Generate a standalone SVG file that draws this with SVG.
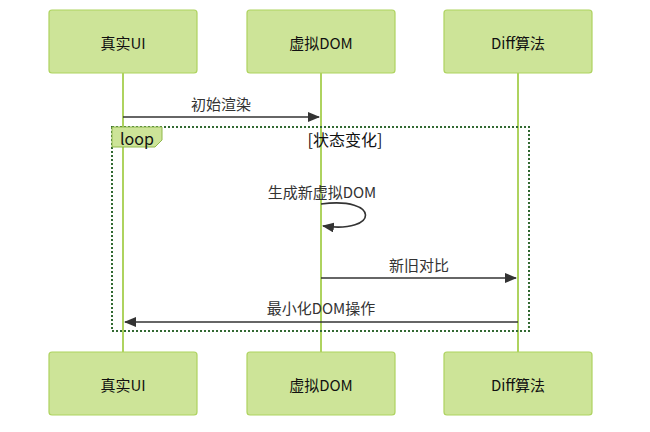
<svg xmlns="http://www.w3.org/2000/svg" width="650" height="432" viewBox="0 0 650 432">
<defs>
<style>
.actor{fill:#cde498;stroke:#aed35f;stroke-width:1.2}
.atxt{font-family:"Noto Sans CJK SC","Noto Sans",sans-serif;font-size:15px;fill:#111;text-anchor:middle;dominant-baseline:central}
.life{stroke:#aed35f;stroke-width:2}
.msg{stroke:#333;stroke-width:1.6;fill:none}
.mtxt{font-family:"Noto Sans CJK SC","Noto Sans",sans-serif;font-size:15px;fill:#333;text-anchor:middle;dominant-baseline:central}
.loop{fill:none;stroke:#326932;stroke-width:2;stroke-dasharray:2,2}
</style>
<marker id="ah" viewBox="0 0 12 10" refX="11" refY="5" markerWidth="12" markerHeight="10" markerUnits="userSpaceOnUse" orient="auto">
<path d="M0,0 L12,5 L0,10 z" fill="#333"/>
</marker>
</defs>
<g id="lifelines">
<line class="life" x1="123" y1="73" x2="123" y2="352"/>
<line class="life" x1="321" y1="73" x2="321" y2="352"/>
<line class="life" x1="518" y1="73" x2="518" y2="352"/>
</g>
<g id="actor-real-top"><rect class="actor" x="49" y="10" width="148" height="63" rx="3"/><text class="atxt" x="123" y="42">真实UI</text></g>
<g id="actor-vdom-top"><rect class="actor" x="247" y="10" width="148" height="63" rx="3"/><text class="atxt" x="321" y="42">虚拟DOM</text></g>
<g id="actor-diff-top"><rect class="actor" x="444" y="10" width="148" height="63" rx="3"/><text class="atxt" x="518" y="42">Diff算法</text></g>
<g id="actor-real-bottom"><rect class="actor" x="49" y="352" width="148" height="63" rx="3"/><text class="atxt" x="123" y="384">真实UI</text></g>
<g id="actor-vdom-bottom"><rect class="actor" x="247" y="352" width="148" height="63" rx="3"/><text class="atxt" x="321" y="384">虚拟DOM</text></g>
<g id="actor-diff-bottom"><rect class="actor" x="444" y="352" width="148" height="63" rx="3"/><text class="atxt" x="518" y="384">Diff算法</text></g>
<g id="loop">
<rect class="loop" x="112" y="127" width="417" height="204"/>
<path d="M112,127 L162,127 L162,140 L155,147 L112,147 z" fill="#cde498" stroke="#8fb84a" stroke-width="1"/>
<text class="mtxt" x="137" y="138" style="fill:#111;font-size:16px">loop</text>
<text class="mtxt" x="345" y="139" style="fill:#111;font-size:16px">[状态变化]</text>
</g>
<g id="connectors">
<text class="mtxt" x="221" y="103">初始渲染</text>
<line class="msg" x1="123" y1="117" x2="319" y2="117" marker-end="url(#ah)"/>
<text class="mtxt" x="322" y="191">生成新虚拟DOM</text>
<path class="msg" d="M321,204 C380,196 380,234 323,226" marker-end="url(#ah)"/>
<text class="mtxt" x="419" y="264">新旧对比</text>
<line class="msg" x1="321" y1="278" x2="516" y2="278" marker-end="url(#ah)"/>
<text class="mtxt" x="321" y="307">最小化DOM操作</text>
<line class="msg" x1="518" y1="322" x2="125" y2="322" marker-end="url(#ah)"/>
</g>
</svg>
